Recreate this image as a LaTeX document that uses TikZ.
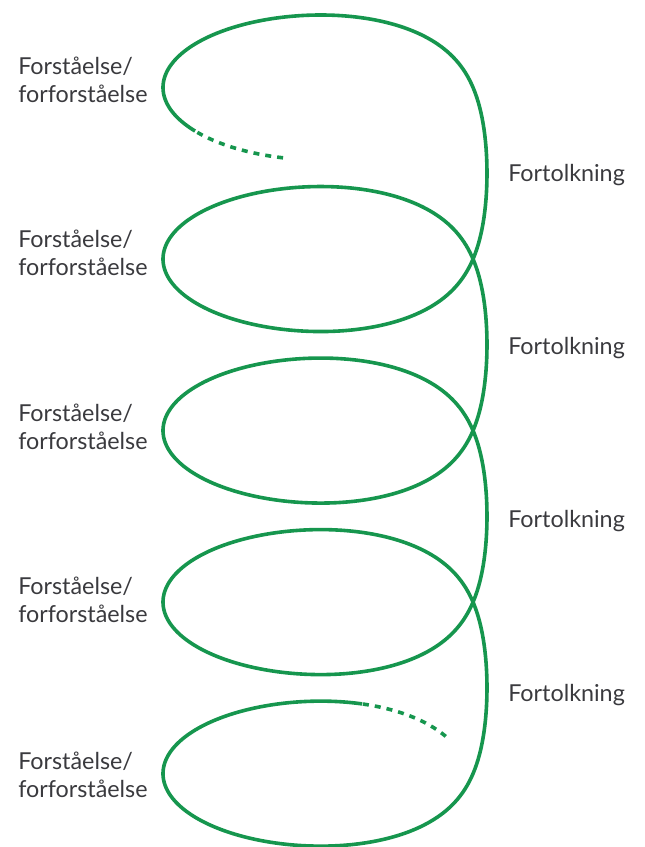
\documentclass[tikz,border=0pt]{standalone}
\usepackage{fontspec}
\setmainfont{Lato}
\definecolor{spiralgreen}{RGB}{22,150,78}
\definecolor{textgray}{RGB}{58,58,62}
\begin{document}
\begin{tikzpicture}[x=0.75pt,y=-0.75pt,
  declare function={
    stp(\t)=\t-sin(\t r);
    stair(\t)=0.5*stp(stp(\t))+0.5*stp(stp(stp(\t)));
    hx(\t)=325-162*cos(\t r);
    hy(\t)=87.5-72.9*sin(\t r)+27.3*stair(\t);
  },
  spiral/.style={draw=spiralgreen, line width=2.7pt, line join=round},
  spiraldash/.style={spiral, dash pattern=on 4.5pt off 4.5pt},
  lbl/.style={anchor=west, align=left, font=\fontsize{17.5}{21}\selectfont, text=textgray, inner sep=0pt}]
\useasboundingbox (0,0) rectangle (644,847);
% spiral
\draw[spiral] plot[domain=-0.64:26.94, samples=1000, variable=\t] ({hx(\t)},{hy(\t)});
\draw[spiraldash] plot[domain=-1.309:-0.64, samples=40, variable=\t] ({hx(\t)},{hy(\t)});
\draw[spiraldash] plot[domain=26.94:27.555, samples=40, variable=\t] ({hx(\t)},{hy(\t)});
% left labels
\node[lbl] (u1) at (18,80) {Forståelse/\\forforståelse};
\node[lbl] (u2) at (18,253) {Forståelse/\\forforståelse};
\node[lbl] (u3) at (18,427) {Forståelse/\\forforståelse};
\node[lbl] (u4) at (18,600) {Forståelse/\\forforståelse};
\node[lbl] (u5) at (18,775) {Forståelse/\\forforståelse};
% right labels
\node[lbl] (t1) at (508,175) {Fortolkning};
\node[lbl] (t2) at (508,348) {Fortolkning};
\node[lbl] (t3) at (508,521) {Fortolkning};
\node[lbl] (t4) at (508,695) {Fortolkning};
\end{tikzpicture}
\end{document}
